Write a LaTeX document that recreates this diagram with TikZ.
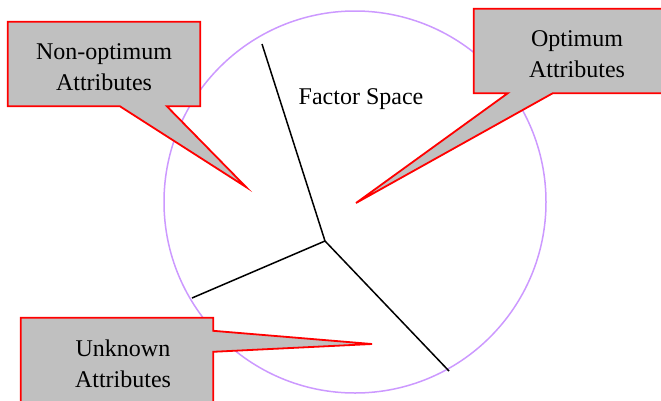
\documentclass[tikz,border=0pt]{standalone}
\usepackage{fontspec}
\setmainfont{Liberation Serif}
\usetikzlibrary{calc}
\definecolor{fsink}{HTML}{000000}
\definecolor{fsred}{HTML}{FF0000}
\definecolor{fsgrey}{HTML}{C0C0C0}
\definecolor{fsviolet}{HTML}{CC99FF}
\tikzset{
  fs text/.style={font=\fontsize{24}{31}\selectfont, text=fsink},
  fs space/.style={draw=fsviolet, line width=1.5pt, circle, minimum size=382pt, inner sep=0pt},
  fs box/.style={minimum width=192pt, minimum height=84pt, inner sep=0pt, align=center},
  fs callout/.style={draw=fsred, fill=fsgrey, line width=1.8pt, line join=miter},
  fs arm/.style={draw=fsink, line width=1.5pt}
}
\begin{document}
\begin{tikzpicture}[fs text, x=1pt, y=-1pt]
  \useasboundingbox (0,0) rectangle (661,400);
  \node[fs space] (space) at (355,202) {};
  \node (spaceLabel) at (361,99) {Factor Space};
  % arms of the factor space
  \coordinate (hub) at (325,241);
  \coordinate (armTop) at (262,44);
  \coordinate (armLeft) at (192,298);
  \coordinate (armRight) at (449,371);
  \draw[fs arm] (hub)--(armTop);
  \draw[fs arm] (hub)--(armLeft);
  \draw[fs arm] (hub)--(armRight);
  % callouts
  \coordinate (nonoptTip) at (246,187);
  \coordinate (optTip) at (356,203);
  \coordinate (unknownTip) at (372,344);
  \node[fs box] (nonopt) at (104,64) {};
  \draw[fs callout] (nonopt.south west)--(nonopt.north west)--(nonopt.north east)--(nonopt.south east)
    --($(nonopt.south west)+(159,0)$)--(nonoptTip)--($(nonopt.south west)+(112,0)$)--cycle;
  \node[align=center] (nonoptText) at ($(nonopt)+(0,3)$) {Non-optimum\\Attributes};
  \node[fs box, minimum width=206pt] (opt) at (577,51) {};
  \draw[fs callout] (opt.south west)--($(opt.south west)+(34,0)$)--(optTip)--($(opt.south west)+(79,0)$)
    --(opt.south east)--(opt.north east)--(opt.north west)--cycle;
  \node[align=center] (optText) at ($(opt)+(0,3)$) {Optimum\\Attributes};
  \node[fs box] (unknown) at (117,360) {};
  \draw[fs callout] (unknown.north west)--(unknown.north east)--($(unknown.north east)+(0,13)$)--(unknownTip)
    --($(unknown.north east)+(0,34)$)--(unknown.south east)--(unknown.south west)--cycle;
  \node[align=center] (unknownText) at ($(unknown)+(6,4)$) {Unknown\\Attributes};
\end{tikzpicture}
\end{document}
